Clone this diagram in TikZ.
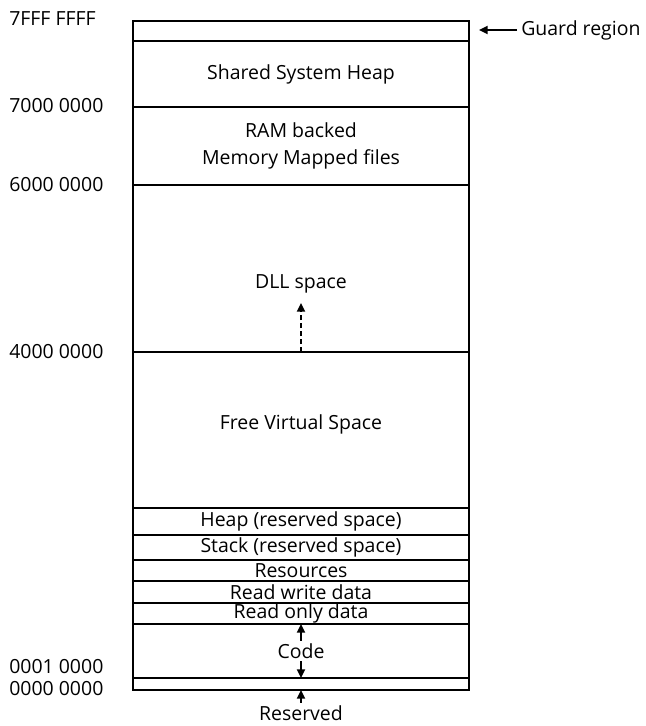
\documentclass[tikz,border=0pt]{standalone}
\usepackage{fontspec}
\setsansfont{Open Sans}
\usetikzlibrary{arrows.meta,positioning,calc}

\begin{document}
\begin{tikzpicture}[
    x=0.75pt, y=-0.75pt,
    font=\sffamily\fontsize{14.6}{17}\selectfont,
    inner sep=0pt,
    region/.style={draw, line width=1.9pt, minimum width=252pt, outer sep=0pt, anchor=north, align=center},
    addr/.style={anchor=west},
    arrow/.style={-{Triangle[length=6.5pt,width=6pt]}, line width=1.4pt}
]
    \useasboundingbox (0,0) rectangle (646,726);

    % Memory regions, top to bottom
    \node[region, minimum height=15pt] (guard) at (301,21) {};
    \node[region, minimum height=49.5pt, below=0pt of guard] (sysheap) {Shared System Heap};
    \node[region, minimum height=58.5pt, below=0pt of sysheap] (rammap) {RAM backed\\[3pt]Memory Mapped files};
    \node[region, minimum height=125.25pt, below=0pt of rammap] (dll) {};
    \node[region, minimum height=117pt, below=0pt of dll] (free) {};
    \node[region, minimum height=20.25pt, below=0pt of free] (heap) {Heap (reserved space)};
    \node[region, minimum height=18.75pt, below=0pt of heap] (stack) {Stack (reserved space)};
    \node[region, minimum height=15.75pt, below=0pt of stack] (rsrc) {Resources};
    \node[region, minimum height=16.5pt, below=0pt of rsrc] (rwdata) {Read write data};
    \node[region, minimum height=15.75pt, below=0pt of rwdata] (rodata) {Read only data};
    \node[region, minimum height=40.5pt, below=0pt of rodata] (code) {};
    \node[region, minimum height=9pt, below=0pt of code] (reserved) {};

    \node (dlltxt) at (301,284) {DLL space};
    \node (freetxt) at (301,424) {Free Virtual Space};
    \node (codetxt) at (code.center) {Code};
    \node (restxt) at (301,713) {Reserved};

    % Addresses
    \node[addr] (a7fff) at (9,19) {7FFF FFFF};
    \node[addr] (a7000) at (9,106) {7000 0000};
    \node[addr] (a6000) at (9,185) {6000 0000};
    \node[addr] (a4000) at (9,352) {4000 0000};
    \node[addr] (a0001) at (9,667) {0001 0000};
    \node[addr] (a0000) at (9,689) {0000 0000};

    % Pointers
    \node[anchor=west] (guardtxt) at (521,30) {Guard region};
    \coordinate (guardtip) at (479,30);
    \draw[arrow, shorten <=3pt] (guardtxt.west) -- (guardtip);

    \coordinate (dlltip) at (301,303);
    \draw[arrow, dash pattern=on 3.5pt off 2.5pt] (dll.south) -- (dlltip);

    \draw[arrow, shorten <=2pt] (codetxt.north) -- (code.north);
    \draw[arrow, shorten <=2pt] (codetxt.south) -- (code.south);
    \draw[arrow, shorten <=2pt] (restxt.north) -- (reserved.south);
\end{tikzpicture}
\end{document}
